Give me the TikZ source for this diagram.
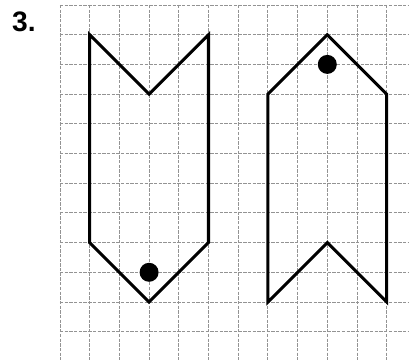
\documentclass[tikz,border=0pt]{standalone}
\usepackage{fontspec}
\setmainfont{Liberation Sans}
\begin{document}
\begin{tikzpicture}[x=1cm,y=1cm,
  gridline/.style={draw=gray!85, line width=0.9pt, dash pattern=on 3.2pt off 1.3pt},
  outline/.style={draw=black, line width=2.9pt, line join=miter},
  dot/.style={fill=black},
  numlabel/.style={anchor=base west, inner sep=0pt, font=\bfseries\fontsize{27}{29}\selectfont}]
\useasboundingbox (0,0) rectangle (13.771,-12.121);
\node[numlabel] (num) at (0.40,-1.07) {3.};
\begin{scope}[shift={(2.02,-0.168)}]
  \clip (-0.1,0.1) rectangle (11.75,-11.95);
  \foreach \i in {0,...,11} {\draw[gridline] (\i,0) -- (\i,-11.95);}
  \foreach \j in {0,...,11} {\draw[gridline] (0,-\j) -- (11.75,-\j);}
  % left shape
  \coordinate (a1) at (1,-1);
  \coordinate (a2) at (3,-3);
  \coordinate (a3) at (5,-1);
  \coordinate (a4) at (5,-8);
  \coordinate (a5) at (3,-10);
  \coordinate (a6) at (1,-8);
  \draw[outline] (a1) -- (a2) -- (a3) -- (a4) -- (a5) -- (a6) -- cycle;
  \fill[dot] (3,-9) circle (0.32);
  % right shape
  \coordinate (b1) at (7,-3);
  \coordinate (b2) at (9,-1);
  \coordinate (b3) at (11,-3);
  \coordinate (b4) at (11,-10);
  \coordinate (b5) at (9,-8);
  \coordinate (b6) at (7,-10);
  \draw[outline] (b1) -- (b2) -- (b3) -- (b4) -- (b5) -- (b6) -- cycle;
  \fill[dot] (9,-2) circle (0.32);
\end{scope}
\end{tikzpicture}
\end{document}
